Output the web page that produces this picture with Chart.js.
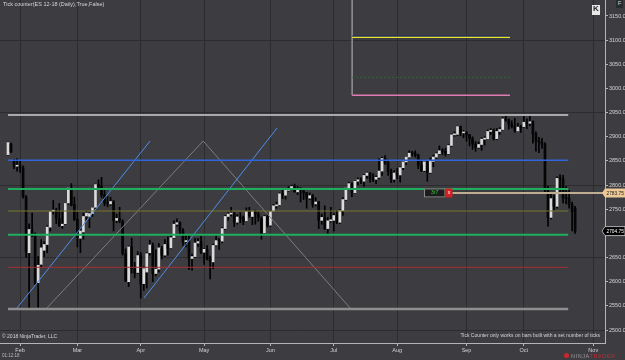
<!DOCTYPE html>
<html><head><meta charset="utf-8">
<script src="https://cdn.jsdelivr.net/npm/chart.js@4/dist/chart.umd.min.js"></script>
<style>
html,body{margin:0;padding:0;background:#3c3c41;width:625px;height:360px;overflow:hidden}
#wrap{position:relative;width:625px;height:360px}
canvas{position:absolute;left:0;top:0}
.t{position:absolute;font-family:"Liberation Sans",Arial,sans-serif;color:#d6d6d6;white-space:nowrap;line-height:1}
</style></head><body>
<div id="wrap"><canvas id="c" width="625" height="360"></canvas>
<div class="t" style="left:3px;top:2px;font-size:5.5px">Tick counter(ES 12-18 (Daily),True,False)</div>
<div class="t" style="left:2px;top:334px;font-size:5px">© 2018 NinjaTrader, LLC</div>
<div class="t" style="right:25px;top:333px;font-size:5px">Tick Counter only works on bars built with a set number of ticks</div>
<div class="t" style="left:2px;top:354px;font-size:4.5px;color:#bbb">01:12:18</div>
<div class="t" style="left:571px;top:354px;font-size:5.5px;letter-spacing:0.6px;color:#9a9a9a">NINJA<span style="color:#c8282d">TRADER</span></div>
<div class="t" style="left:564px;top:353px;width:5px;height:5px;border-radius:3px;background:#c8282d"></div>
<div class="t" style="left:592px;top:5px;width:8px;height:10px;background:#e8e8e8;color:#222;font-size:8px;font-weight:bold;text-align:center">K</div>
<div class="t" style="left:616px;top:0px;width:7px;height:8px;background:#2a2a2e;color:#ccc;font-size:6px;text-align:center">F</div>
</div>
<script>
// ---- data (ES 12-18 daily bars, Jan 26 – Oct 24) ----
const open = [2863,2885,2850,2839,
2838,2836,2775,2660,2706,2697,2598,2636,2665,2677,2713,2746,2745,2731,2716,2720,2763,2794,2760,
2729,2690,2703,2736,2735,2741,2754,2801,2797,2780,2763,2761,2765,2727,2731,2725,2658,2600,2672,2627,2619,
2654,2596,2620,2660,2675,2617,2626,2668,2655,2678,2670,2691,2719,2722,2706,2683,2684,2648,2652,2680,2683,
2661,2667,2648,2641,2676,2685,2684,2710,2735,2740,2742,2723,2734,2732,2726,2745,2735,2745,2740,2730,2701,2735,
2717,2746,2757,2759,2782,2779,2789,2792,2797,2786,2792,2788,2784,2773,2778,2761,2765,2727,2733,2710,2726,
2727,2737,2723,2747,2770,2794,2803,2784,2808,2811,2808,2820,2825,2814,2812,2816,2829,2855,2846,2828,2812,
2824,2821,2836,2848,2858,2866,2865,2862,2841,2830,2848,2826,2849,2858,2865,2871,2870,2865,2882,2904,2905,2921,2908,
2908,2904,2896,2885,2878,2884,2895,2896,2911,2912,2896,2911,2915,2937,2935,2926,2921,2912,2920,
2921,2930,2928,2931,2906,2891,2889,2885,2788,2733,2772,2756,2814,2813,2774,2772,2760,2752];
const high = [2889,2887,2853,2855,
2850,2840,2778,2720,2742,2701,2652,2687,2683,2716,2746,2768,2752,2762,2745,2762,2795,2803,2775,
2744,2710,2742,2746,2743,2754,2802,2811,2816,2790,2776,2775,2768,2740,2754,2728,2668,2674,2690,2640,2662,
2660,2631,2660,2686,2680,2666,2679,2673,2687,2693,2697,2726,2730,2724,2710,2697,2698,2657,2690,2690,2694,
2668,2675,2653,2678,2695,2689,2712,2737,2743,2754,2743,2739,2743,2736,2753,2754,2746,2748,2745,2734,2737,2740,
2747,2760,2765,2784,2791,2790,2797,2800,2802,2797,2795,2790,2785,2784,2781,2774,2766,2740,2757,2733,2754,
2741,2747,2750,2774,2795,2806,2805,2810,2815,2815,2822,2827,2826,2824,2819,2855,2858,2861,2852,2833,2830,
2834,2838,2849,2859,2871,2870,2871,2864,2852,2852,2849,2856,2862,2867,2881,2875,2876,2884,2906,2910,2922,2922,2913,
2911,2905,2900,2890,2889,2898,2900,2914,2917,2916,2917,2919,2940,2946,2937,2933,2938,2928,2924,
2943,2937,2945,2933,2910,2899,2897,2888,2798,2781,2779,2817,2821,2820,2797,2789,2765,2756];
const low = [2862,2867,2834,2829,
2826,2773,2650,2545,2693,2594,2547,2630,2652,2660,2705,2740,2720,2714,2710,2718,2760,2757,2727,
2672,2660,2688,2728,2712,2735,2750,2793,2774,2757,2755,2758,2705,2722,2722,2655,2600,2590,2618,2608,2617,
2566,2582,2587,2655,2600,2612,2620,2647,2652,2655,2668,2689,2715,2699,2675,2672,2625,2624,2650,2673,2658,
2636,2645,2606,2627,2674,2667,2680,2708,2727,2736,2714,2719,2722,2718,2725,2733,2718,2719,2725,2688,2700,2713,
2714,2745,2752,2757,2772,2771,2787,2790,2785,2780,2765,2770,2752,2770,2754,2757,2710,2719,2708,2700,2723,
2705,2720,2720,2737,2768,2790,2776,2782,2801,2803,2797,2814,2806,2807,2803,2812,2820,2843,2820,2805,2806,
2813,2806,2832,2842,2856,2860,2858,2834,2828,2828,2808,2824,2838,2855,2864,2863,2860,2864,2880,2901,2902,2902,2898,
2891,2881,2874,2870,2876,2872,2883,2896,2905,2893,2894,2905,2914,2932,2916,2918,2909,2911,2909,
2920,2917,2923,2887,2870,2867,2876,2786,2715,2730,2748,2752,2784,2763,2761,2752,2705,2700];
const close = [2888,2869,2838,2840,
2837,2776,2662,2708,2697,2596,2634,2670,2677,2713,2745,2747,2731,2716,2719,2762,2794,2758,2728,
2692,2705,2735,2742,2741,2753,2801,2797,2779,2763,2761,2766,2727,2731,2726,2658,2602,2672,2627,2618,2654,
2595,2627,2658,2676,2617,2626,2670,2655,2677,2669,2691,2719,2722,2706,2683,2683,2648,2652,2680,2683,2661,
2667,2647,2642,2675,2685,2684,2710,2735,2740,2742,2723,2734,2732,2725,2745,2736,2745,2740,2733,2701,2735,2716,
2745,2757,2759,2782,2780,2789,2792,2797,2786,2793,2790,2784,2773,2778,2760,2765,2727,2733,2710,2726,2728,
2737,2723,2747,2770,2794,2803,2784,2808,2811,2808,2820,2825,2814,2812,2816,2829,2855,2846,2828,2812,2825,
2821,2836,2848,2858,2866,2865,2862,2841,2830,2848,2826,2849,2858,2865,2871,2870,2865,2882,2904,2905,2921,2908,2909,
2904,2896,2885,2878,2884,2895,2896,2911,2912,2896,2911,2915,2937,2935,2926,2921,2912,2920,2919,
2930,2928,2931,2906,2891,2889,2885,2790,2733,2772,2756,2814,2813,2774,2772,2760,2745,2704.75];

const monthLabels = ['Feb','Mar','Apr','May','Jun','Jul','Aug','Sep','Oct','Nov'];
const monthBars   = [4, 23, 44, 65, 87, 108, 129, 152, 171, 194];
const yTicks = [2500,2550,2600,2650,2700,2750,2800,2850,2900,2950,3000,3050,3100,3150];
const gridPrices = [2500,2650,2800,2950,3100];

// drawn levels (price) and their bar span
const levelPrices = [2945.0, 2851.3, 2791.9, 2746.3, 2697.3, 2629.8, 2543.5];
const levelSpan = [0, 185.7];
const upperPrices = [3108.6, 3105.9, 3023.1, 2985.8];
const upperSpan = [114.1, 166.4];
const upperVertical = [[114.1, 3183.1], [114.1, 2985.8]];
const trendBlue1 = [[3.0, 2545.6], [47.1, 2891.2]];
const trendBlue2 = [[45.1, 2566.3], [89.2, 2918.1]];
const trendGray  = [[12.9, 2545.6], [64.7, 2891.2], [113.4, 2545.6]];
const markerPrice = 2783.75;
const markerBox = [137.9, 145.0, 147.3];
const markerText = '3r7';
const lastPrice = 2704.75;

// ---- styles ----
const BG = '#3c3c41', GRID = '#2c2c30', AXIS = '#b4b4b4', TXT = '#d4d4d4';
const levelStyles = [
  {c:'#a9a9a9', w:2}, {c:'#2f66dc', w:1.5}, {c:'#1fae5e', w:2}, {c:'#77772e', w:1},
  {c:'#1fae5e', w:2}, {c:'#a63030', w:1}, {c:'#8e8e8e', w:2.5}
];
const upperStyles = [
  {c:'#1c2a6a', w:1}, {c:'#e6e62a', w:1.5}, {c:'#2a6a38', w:1, d:[2,2]}, {c:'#e07ab4', w:1.5}
];

const wickData = high.map((h,i)=>({x:i, y:[low[i], h]}));
const bodyData = open.map((o,i)=>({x:i, y:[Math.min(o,close[i]), Math.max(o,close[i])]}));
const bodyColors = open.map((o,i)=> close[i] >= o ? '#dadada' : '#050505');

function lineDs(points, color, width, dash){
  return {type:'line', data: points.map(p=>({x:p[0], y:p[1]})), borderColor:color, borderWidth:width,
    borderDash: dash||[], pointRadius:0, fill:false, tension:0, order:0};
}
const datasets = [];
datasets.push({type:'bar', data: bodyData, backgroundColor: bodyColors, borderWidth:0, barThickness:2, grouped:false, minBarLength:1, order:2});
datasets.push({type:'bar', data: wickData, backgroundColor:'#000', borderWidth:0, barThickness:1, grouped:false, order:3});
levelPrices.forEach((p,k)=> datasets.push(lineDs([[levelSpan[0],p],[levelSpan[1],p]], levelStyles[k].c, levelStyles[k].w)));
upperPrices.forEach((p,k)=> datasets.push(lineDs([[upperSpan[0],p],[upperSpan[1],p]], upperStyles[k].c, upperStyles[k].w, upperStyles[k].d)));
datasets.push(lineDs(upperVertical, '#8c8c8c', 1));
datasets.push(lineDs(trendBlue1, '#4d8fe8', 1));
datasets.push(lineDs(trendBlue2, '#4d8fe8', 1));
datasets.push(lineDs(trendGray, '#7e7e7e', 1));
datasets.push(lineDs([[markerBox[2], markerPrice],[197.9, markerPrice]], '#bfae92', 2));

const overlay = {
  id:'overlay',
  beforeDraw(chart){
    const c = chart.ctx; c.save(); c.fillStyle = BG; c.fillRect(0,0,chart.width,chart.height); c.restore();
  },
  afterDraw(chart){
    const c = chart.ctx, xs = chart.scales.x, ys = chart.scales.y;
    c.save();
    // marker box
    const ym = ys.getPixelForValue(markerPrice);
    const x0 = xs.getPixelForValue(markerBox[0]), x1 = xs.getPixelForValue(markerBox[1]), x2 = xs.getPixelForValue(markerBox[2]);
    c.fillStyle = '#1c1c1c'; c.fillRect(x0, ym-4.5, x1-x0, 9);
    c.strokeStyle = '#8a8a8a'; c.lineWidth = 1; c.strokeRect(x0+0.5, ym-4, x1-x0-1, 8);
    c.fillStyle = '#d42020'; c.fillRect(x1, ym-4.5, x2-x1, 9);
    c.fillStyle = '#fff'; c.font = '5px "Liberation Sans"'; c.textAlign='center'; c.textBaseline='middle';
    c.fillText('x', (x1+x2)/2, ym);
    c.fillStyle = '#3ccf3c'; c.fillText(markerText, (x0+x1)/2, ym);
    // price flags on axis
    function flag(v, bg, fg, stroke){
      const y = ys.getPixelForValue(v), L = 602, R = 625;
      c.beginPath(); c.moveTo(L, y); c.lineTo(L+3, y-4.5); c.lineTo(R, y-4.5); c.lineTo(R, y+4.5); c.lineTo(L+3, y+4.5); c.closePath();
      c.fillStyle = bg; c.fill();
      if (stroke){ c.strokeStyle = stroke; c.lineWidth = 0.8; c.stroke(); }
      c.fillStyle = fg; c.font = '4.8px "Liberation Sans"'; c.textAlign='left'; c.textBaseline='middle';
      c.fillText(v.toFixed(2), L+4.5, y+0.5);
    }
    flag(markerPrice, '#ecc995', '#222');
    flag(lastPrice, '#000', '#fff', '#cfcfcf');
    c.restore();
  }
};

new Chart(document.getElementById('c'), {
  type:'bar',
  data:{datasets},
  options:{
    responsive:false, devicePixelRatio:1, animation:false, events:[],
    layout:{padding:0},
    plugins:{legend:{display:false}, tooltip:{enabled:false}, title:{display:false}},
    scales:{
      x:{type:'linear', min:-2.65, max:197.9, offset:false, bounds:'data',
        afterBuildTicks: s => { s.ticks = monthBars.map(v=>({value:v})); },
        afterFit: s => { s.height = 17; s.paddingLeft = 0; s.paddingRight = 0; },
        ticks:{autoSkip:false, maxRotation:0, padding:1, color:TXT, font:{size:5.5, family:'Liberation Sans'},
          callback:(v,i)=> monthLabels[i]},
        grid:{offset:false, color:GRID, lineWidth:1, tickColor:AXIS, tickLength:3, drawTicks:true},
        border:{color:AXIS, width:1}
      },
      y:{type:'linear', position:'right', min:2473.1, max:3183.1, beginAtZero:false,
        afterBuildTicks: s => { s.ticks = yTicks.map(v=>({value:v})); },
        afterFit: s => { s.width = 20; s.paddingTop = 0; s.paddingBottom = 0; },
        ticks:{padding:1, color:TXT, font:{size:5.5, family:'Liberation Sans'}, callback:v=>v.toFixed(2)},
        grid:{color: ctx => (ctx.tick && gridPrices.includes(ctx.tick.value)) ? GRID : 'rgba(0,0,0,0)',
          tickColor:AXIS, tickLength:3, drawTicks:true},
        border:{color:AXIS, width:1}
      }
    }
  },
  plugins:[overlay]
});
</script>
</body></html>
